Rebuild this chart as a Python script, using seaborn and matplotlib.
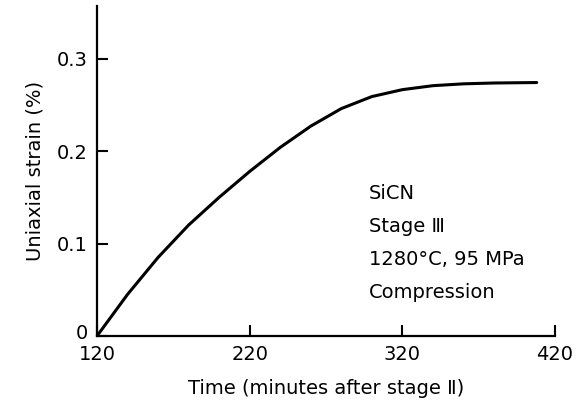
import matplotlib
matplotlib.use("Agg")
import matplotlib.pyplot as plt
import matplotlib.transforms as mtransforms
import seaborn as sns
import pandas as pd

# Creep curve: uniaxial strain vs. time after stage II
time_min = [120, 140, 160, 180, 200, 220, 240, 260, 280, 300, 320, 340, 360, 380, 408]
strain_pct = [0.0, 0.045, 0.085, 0.120, 0.150, 0.178, 0.204, 0.227, 0.246, 0.259,
              0.2665, 0.2708, 0.2728, 0.2737, 0.2742]

x_ticks = [120, 220, 320, 420]
y_ticks = [0.0, 0.1, 0.2, 0.3]
y_tick_labels = ["0", "0.1", "0.2", "0.3"]

annotation = ["SiCN", "Stage \u2162", "1280\u00b0C, 95 MPa", "Compression"]

df = pd.DataFrame({"time": time_min, "strain": strain_pct})

sns.set_style("ticks")
plt.rcParams["font.family"] = ["DejaVu Sans"]
plt.rcParams.update({
    "text.color": "black",
    "axes.labelcolor": "black",
    "xtick.color": "black",
    "ytick.color": "black",
})

fig = plt.figure(figsize=(5.82, 4.12), dpi=100)
ax = fig.add_axes([97 / 582, 1 - 336 / 412, (555 - 97) / 582, (336 - 6) / 412])

sns.lineplot(data=df, x="time", y="strain", ax=ax, color="black", linewidth=2.2)

ax.set_xlim(120, 420)
ax.set_ylim(0, 0.357)
ax.set_xticks(x_ticks)
ax.set_yticks(y_ticks)
ax.set_yticklabels(y_tick_labels)
ax.tick_params(direction="in", length=8, width=1.5, labelsize=14)
ax.tick_params(axis="x", pad=6.5)
ax.tick_params(axis="y", pad=6.5)

# lift the "0" label slightly so it clears the "120" below it
zero_label = ax.get_yticklabels()[0]
zero_label.set_transform(zero_label.get_transform() +
                         mtransforms.ScaledTranslation(0, 3 / 72, fig.dpi_scale_trans))

for side in ["top", "right"]:
    ax.spines[side].set_visible(False)
for side in ["left", "bottom"]:
    ax.spines[side].set_linewidth(1.6)
    ax.spines[side].set_color("black")

ax.set_xlabel("Time (minutes after stage \u2161)", fontsize=14, labelpad=11)
ax.set_ylabel("Uniaxial strain (%)", fontsize=14, labelpad=9)

for i, line in enumerate(annotation):
    ax.text(0.594, 0.433 - i * 0.1, line, transform=ax.transAxes,
            fontsize=14, ha="left", va="center")

fig.savefig("out.png", dpi=100)
